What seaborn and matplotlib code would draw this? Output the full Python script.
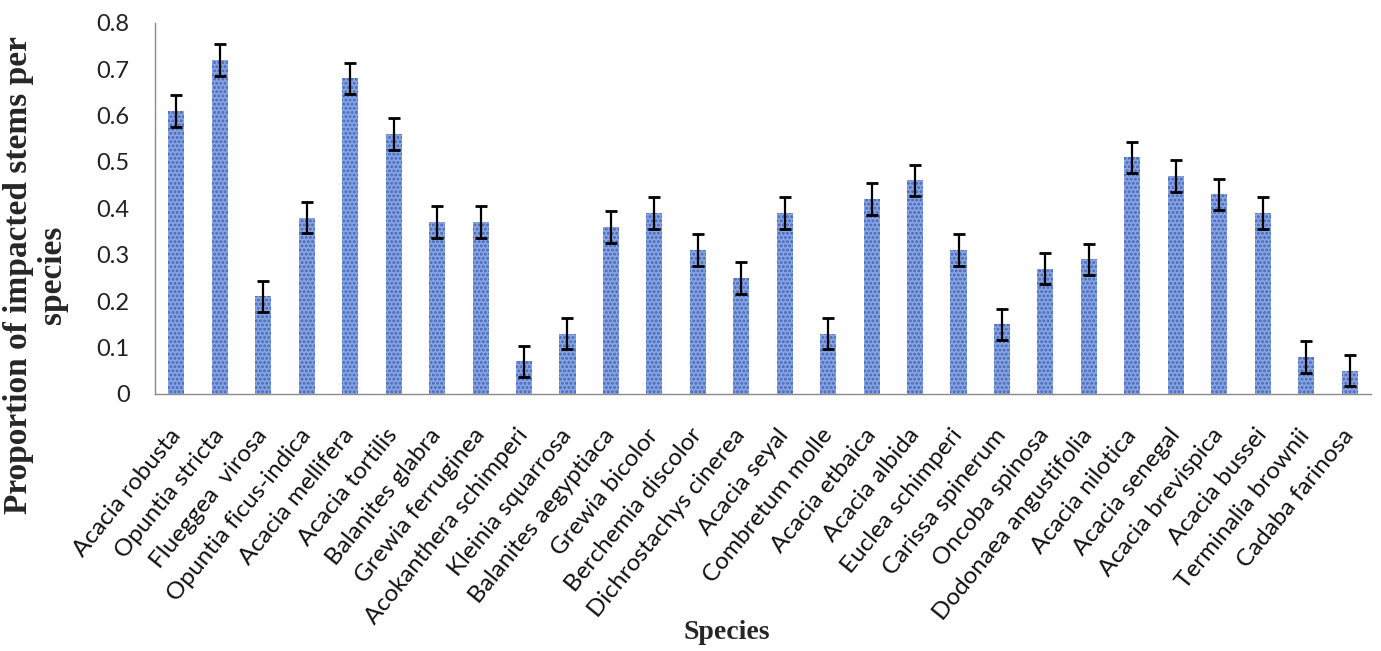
import matplotlib
matplotlib.use("Agg")
import matplotlib.pyplot as plt
import seaborn as sns
import numpy as np
import pandas as pd

species = [
    "Acacia robusta", "Opuntia stricta", "Flueggea  virosa", "Opuntia ficus-indica",
    "Acacia mellifera", "Acacia tortilis", "Balanites glabra", "Grewia ferruginea",
    "Acokanthera schimperi", "Kleinia squarrosa", "Balanites aegyptiaca", "Grewia bicolor",
    "Berchemia discolor", "Dichrostachys cinerea", "Acacia seyal", "Combretum molle",
    "Acacia etbaica", "Acacia albida", "Euclea schimperi", "Carissa spinerum",
    "Oncoba spinosa", "Dodonaea angustifolia", "Acacia nilotica", "Acacia senegal",
    "Acacia brevispica", "Acacia bussei", "Terminalia brownii", "Cadaba farinosa",
]
proportion = [
    0.61, 0.72, 0.21, 0.38, 0.68, 0.56, 0.37, 0.37, 0.07, 0.13, 0.36, 0.39, 0.31, 0.25,
    0.39, 0.13, 0.42, 0.46, 0.31, 0.15, 0.27, 0.29, 0.51, 0.47, 0.43, 0.39, 0.08, 0.05,
]
std_err = [0.034] * len(species)

df = pd.DataFrame({"species": species, "proportion": proportion, "se": std_err})

sns.set_style("white")
plt.rcParams["hatch.linewidth"] = 1.4

fig = plt.figure(figsize=(13.81, 6.51), dpi=100)
ax = fig.add_axes([0.112, 0.395, 0.881, 0.57])

sns.barplot(data=df, x="species", y="proportion", ax=ax, color="#86a4e6",
            width=0.37, errorbar=None, saturation=1)
# speckled fill: dotted hatch over the light blue base
for p in ax.patches:
    p.set_hatch("....")
    p.set_edgecolor("#4866b0")
    p.set_linewidth(0)

ax.errorbar(np.arange(len(species)), df["proportion"], yerr=df["se"], fmt="none",
            ecolor="black", elinewidth=1.6, capsize=4.5, capthick=2)

ax.set_xlim(-0.5, len(species) - 0.5)
ax.set_ylim(0, 0.8)
ax.set_yticks(np.arange(0, 0.81, 0.1))
ax.set_yticklabels(["0"] + [f"{v:.1f}" for v in np.arange(0.1, 0.81, 0.1)],
                   fontsize=17, family="Lato", color="#222222")

ax.set_xticks(np.arange(len(species)))
ax.set_xticklabels(species, rotation=51, ha="right", va="center", rotation_mode="anchor",
                   fontsize=17.5, family="Lato", color="#111111")
ax.set_xticks(np.arange(-0.5, len(species)), minor=True)
ax.tick_params(axis="x", which="major", length=0, pad=27)
ax.tick_params(axis="x", which="minor", length=7, width=1, color="#8a8a8a", direction="out")
ax.tick_params(axis="y", which="major", length=6, width=1, color="#8a8a8a",
               direction="out", pad=12)

for side in ["top", "right"]:
    ax.spines[side].set_visible(False)
for side in ["left", "bottom"]:
    ax.spines[side].set_color("#8a8a8a")
    ax.spines[side].set_linewidth(1)

ax.set_xlabel("")
ax.set_ylabel("")
fig.text(0.026, 0.578, "Proportion of impacted stems per\nspecies", rotation=90,
         ha="center", va="center", fontsize=24, fontweight="bold",
         family="Liberation Serif", linespacing=1.12)
fig.text(0.526, 0.029, "Species", ha="center", va="center", fontsize=20,
         fontweight="bold", family="Liberation Serif")

fig.savefig("out.png", dpi=100)
